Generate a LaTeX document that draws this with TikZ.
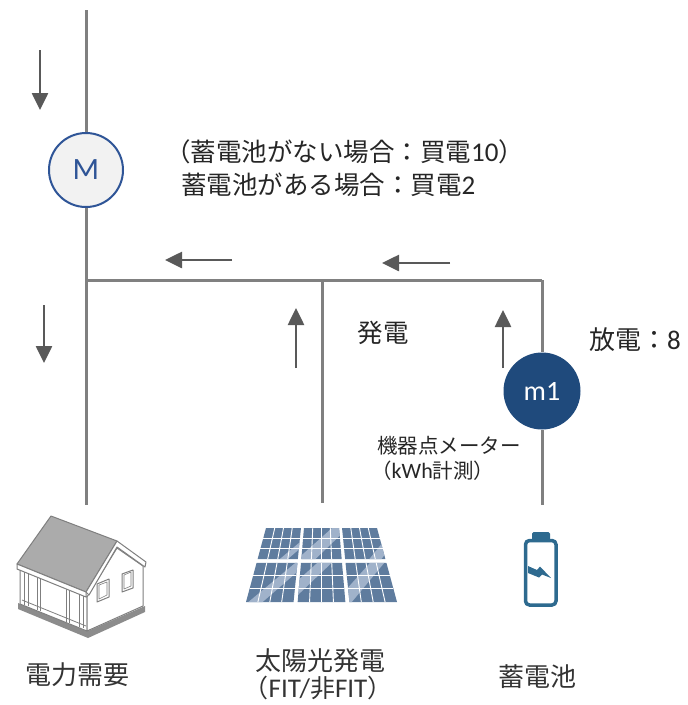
\documentclass[tikz,border=0pt]{standalone}
\usepackage{fontspec}
\newfontfamily\cjk{Noto Sans CJK JP}
\newfontfamily\lat{Carlito}
\usetikzlibrary{arrows.meta}

\definecolor{wire}{HTML}{808080}
\definecolor{flow}{HTML}{595959}
\definecolor{meterblue}{HTML}{2F5597}
\definecolor{meterfill}{HTML}{F2F2F2}
\definecolor{mfill}{HTML}{1F4A7C}
\definecolor{batt}{HTML}{2E6A8F}
\definecolor{panel}{HTML}{5F7C9E}
\definecolor{panellight}{HTML}{A0B2CA}
\definecolor{roof}{HTML}{ABABAB}
\definecolor{houseline}{HTML}{7F7F7F}
\definecolor{housebase}{HTML}{8C8C8C}
\definecolor{txt}{HTML}{262626}
\definecolor{lbl}{HTML}{333333}

% point of the solar array: u across, v down, on a trapezoid
\newcommand\sppoint[3]{%
  \pgfmathsetmacro\sppx{266-20*(#3)+(#2)*(111+40*(#3))}%
  \pgfmathsetmacro\sppy{528+74*(#3)}%
  \coordinate (#1) at (\sppx,\sppy);}
% point local to the current panel
\newcommand\lp[3]{%
  \pgfmathsetmacro\lpu{\uA+(#2)*(\uB-\uA)}%
  \pgfmathsetmacro\lpv{\vA+(#3)*(\vB-\vA)}%
  \sppoint{#1}{\lpu}{\lpv}}
% one panel: u range, v range, stripe start, stripe width
\newcommand\solarpanel[6]{%
  \def\uA{#1}\def\uB{#2}\def\vA{#3}\def\vB{#4}%
  \lp{c1}{0}{0}\lp{c2}{1}{0}\lp{c3}{1}{1}\lp{c4}{0}{1}%
  \fill[panel] (c1) -- (c2) -- (c3) -- (c4) -- cycle;
  \begin{scope}
    \clip (c1) -- (c2) -- (c3) -- (c4) -- cycle;
    \lp{s1}{#5}{1}\lp{s2}{#5+#6}{1}\lp{s3}{#5+#6+0.9}{0}\lp{s4}{#5+0.9}{0}%
    \fill[panellight] (s1) -- (s2) -- (s3) -- (s4) -- cycle;
  \end{scope}
  \foreach \k in {0.25,0.5,0.75}{%
    \lp{g1}{\k}{0}\lp{g2}{\k}{1}%
    \draw[white, line width=0.9pt] (g1) -- (g2);}
  \foreach \k in {0.3333,0.6667}{%
    \lp{g1}{0}{\k}\lp{g2}{1}{\k}%
    \draw[white, line width=0.9pt] (g1) -- (g2);}
}

\tikzset{
  wireline/.style={draw=wire, line width=3pt},
  flowarrow/.style={draw=flow, line width=2.6pt,
    -{Triangle[length=17pt,width=16pt]}},
  note/.style={inner sep=0pt, text=txt},
  caption/.style={inner sep=0pt, text=lbl},
}

\begin{document}
\begin{tikzpicture}[x=1pt,y=-1pt]
\useasboundingbox (0,0) rectangle (688,705);

% meters
\node[circle, draw=meterblue, fill=meterfill, line width=2pt,
      minimum size=74pt, inner sep=0pt] (M) at (86,170)
      {\lat\fontsize{31}{31}\selectfont\color{meterblue}M};
\node[circle, fill=mfill, minimum size=77pt, inner sep=0pt] (m1) at (542,391)
      {\lat\fontsize{28}{28}\selectfont\color{white}m1};

% wiring
\coordinate (top) at (86,10);
\coordinate (jL) at (86,280);
\coordinate (jS) at (322,280);
\coordinate (jB) at (542,280);
\coordinate (endL) at (86,505);
\coordinate (endS) at (322,503);
\coordinate (endB) at (542,505);
\draw[wireline] (top) -- (M.north);
\draw[wireline] (M.south) -- (endL);
\draw[wireline] (jL) -- (jB);
\draw[wireline] (jS) -- (endS);
\draw[wireline] (jB) -- (m1.north);
\draw[wireline] (m1.south) -- (endB);

% power flow arrows
\coordinate (a1s) at (40,50);   \coordinate (a1e) at (40,110);
\coordinate (a2s) at (44,305);  \coordinate (a2e) at (44,363);
\coordinate (a3s) at (232,260); \coordinate (a3e) at (165,260);
\coordinate (a4s) at (450,263); \coordinate (a4e) at (382,263);
\coordinate (a5s) at (296,368); \coordinate (a5e) at (296,308);
\coordinate (a6s) at (503,368); \coordinate (a6e) at (503,310);
\draw[flowarrow] (a1s) -- (a1e);
\draw[flowarrow] (a2s) -- (a2e);
\draw[flowarrow] (a3s) -- (a3e);
\draw[flowarrow] (a4s) -- (a4e);
\draw[flowarrow] (a5s) -- (a5e);
\draw[flowarrow] (a6s) -- (a6e);

% annotations
\node[note, anchor=west] (buyA) at (165,152)
  {\cjk\fontsize{25.5}{25.5}\selectfont （蓄電池がない場合：買電{\lat\fontsize{27}{27}\selectfont 10}）};
\node[note, anchor=west] (buyB) at (181,185)
  {\cjk\fontsize{25.5}{25.5}\selectfont 蓄電池がある場合：買電{\lat\fontsize{27}{27}\selectfont 2}};
\node[note] (gen) at (383,333) {\cjk\fontsize{25.5}{25.5}\selectfont 発電};
\node[note, anchor=west] (dis) at (589,340)
  {\cjk\fontsize{26}{26}\selectfont 放電：{\lat\fontsize{27}{27}\selectfont 8}};
\node[note, anchor=west] (meterA) at (377,446)
  {\cjk\fontsize{20.5}{20.5}\selectfont 機器点メーター};
\node[note, anchor=west] (meterB) at (371,471)
  {\cjk\fontsize{20.5}{20.5}\selectfont （{\lat\fontsize{22}{22}\selectfont kWh}計測）};

% captions
\node[caption] (capL) at (78,675) {\cjk\fontsize{26}{26}\selectfont 電力需要};
\node[caption] (capS1) at (320,661) {\cjk\fontsize{26}{26}\selectfont 太陽光発電};
\node[caption] (capS2) at (318,688) {\cjk\fontsize{25}{25}\selectfont （{\lat\fontsize{27}{27}\selectfont FIT/}非{\lat\fontsize{27}{27}\selectfont FIT}）};
\node[caption] (capB) at (537,677) {\cjk\fontsize{26}{26}\selectfont 蓄電池};

% house
\begin{scope}[line join=round]
  \fill[housebase] (18,603) -- (88,631) -- (145,606) -- (145,612) -- (88,638) -- (18,609) -- cycle;
  \filldraw[fill=white, draw=houseline, line width=1pt]
    (20,568) -- (87,597) -- (87,631) -- (20,604) -- cycle;
  \filldraw[fill=white, draw=houseline, line width=1pt]
    (87,597) -- (117,548) -- (143,566) -- (143,606) -- (87,631) -- cycle;
  % porch posts
  \foreach \xa/\xb in {24/28, 37/40, 66/69, 79/83}{
    \pgfmathsetmacro\ya{568+(\xa-20)*29/67}
    \pgfmathsetmacro\yb{603+(\xa-20)*27/67}
    \pgfmathsetmacro\yc{568+(\xb-20)*29/67}
    \pgfmathsetmacro\yd{603+(\xb-20)*27/67}
    \draw[houseline, line width=0.8pt] (\xa,\ya) -- (\xa,\yb) (\xb,\yc) -- (\xb,\yd);
  }
  \draw[houseline, line width=0.8pt] (22,600) -- (86,626);
  % windows
  \draw[houseline, line width=1pt] (97,584) -- (109,579) -- (109,597) -- (97,602) -- cycle;
  \draw[houseline, line width=0.6pt] (99,585) -- (107,582) -- (107,595) -- (99,599) -- cycle;
  \draw[houseline, line width=1pt] (122,574) -- (133,570) -- (133,588) -- (122,592) -- cycle;
  \draw[houseline, line width=0.6pt] (124,575) -- (131,572) -- (131,586) -- (124,589) -- cycle;
  % roof
  \filldraw[fill=roof, draw=houseline, line width=1pt]
    (51,516) -- (117,541) -- (86,592) -- (17,564) -- cycle;
  \filldraw[fill=white, draw=houseline, line width=1pt]
    (17,564) -- (86,592) -- (86,597) -- (17,569) -- cycle;
  \filldraw[fill=white, draw=houseline, line width=1pt]
    (117,541) -- (146,562) -- (145,567) -- (117,547) -- (89,595) -- (86,592) -- cycle;
\end{scope}

% solar array
\solarpanel{0}{0.315}{0}{0.42}{0.55}{0.2}
\solarpanel{0.342}{0.658}{0}{0.42}{-0.1}{0.45}
\solarpanel{0.685}{1}{0}{0.42}{0.6}{0.3}
\solarpanel{0}{0.315}{0.47}{1}{0.05}{0.3}
\solarpanel{0.342}{0.658}{0.47}{1}{-0.5}{0.35}
\solarpanel{0.685}{1}{0.47}{1}{-0.3}{0.35}

% battery
\draw[batt, line width=3.5pt, rounded corners=4pt] (525.5,540.5) rectangle (556,605);
\fill[batt, rounded corners=1.5pt] (532,532) rectangle (550,541);
\fill[batt] (528,566) -- (537,570) -- (540,566.5) -- (551,578) -- (542,574.5) -- (539,577.5) -- (528,573) -- cycle;

\end{tikzpicture}
\end{document}
